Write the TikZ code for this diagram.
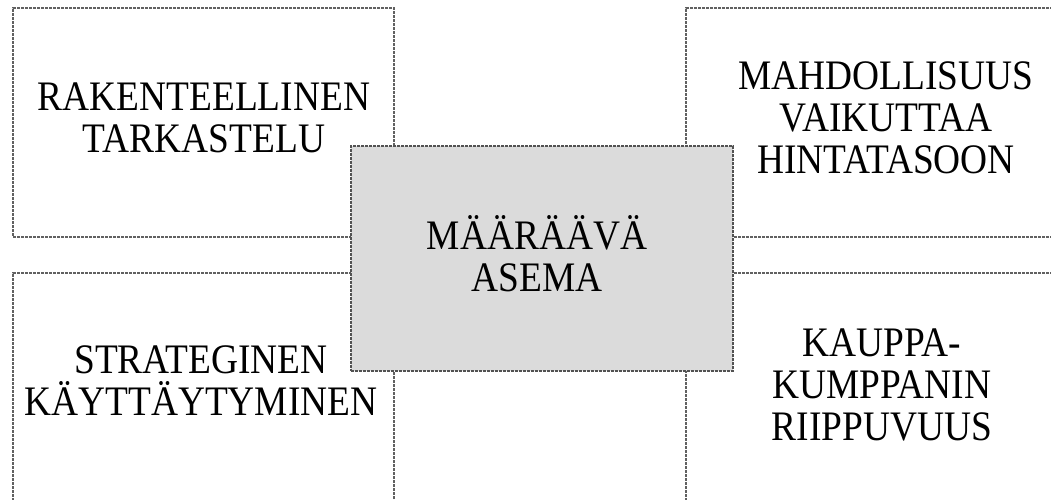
\documentclass[tikz,border=0pt]{standalone}
\usepackage{fontspec}
\setmainfont{Liberation Serif}[FakeStretch=0.89]

\tikzstyle{dotbox}=[
    draw=black!62,
    line width=1.1pt,
    dash pattern=on 1.5pt off 0.5pt,
    fill=white,
    minimum width=190.5pt,
    minimum height=114.5pt,
    inner sep=0pt,
  ]
\tikzstyle{midbox}=[
    dotbox,
    draw=black!68,
    fill=black!14,
    minimum width=191pt,
    minimum height=112.5pt,
  ]
\tikzstyle{boxtext}=[
    align=center,
    inner sep=0pt,
    font=\fontsize{21}{21}\selectfont,
  ]

\begin{document}
\begin{tikzpicture}[x=0.5pt, y=-0.5pt]
      \useasboundingbox (0,0) rectangle (1051,499);
      \clip (0,0) rectangle (1051,499);
      % four corner boxes, then the middle one on top
      \node[dotbox] (tl) at (203.5, 122.5) {};
      \node[dotbox] (bl) at (203.5, 387.5) {};
      \node[dotbox] (tr) at (876.5, 122.5) {};
      \node[dotbox] (br) at (876.5, 387.5) {};
      \node[midbox] (mid) at (542, 258.5) {};
      \node[boxtext] (tltext) at (204, 117.5) {RAKENTEELLINEN\\TARKASTELU};
      \node[boxtext] (trtext) at (886, 117.5) {MAHDOLLISUUS\\VAIKUTTAA\\HINTATASOON};
      \node[boxtext] (bltext) at (201, 380.5) {STRATEGINEN\\KÄYTTÄYTYMINEN};
      \node[boxtext] (brtext) at (882, 385) {KAUPPA-\\KUMPPANIN\\RIIPPUVUUS};
      \node[boxtext] (midtext) at (537, 253.5) {MÄÄRÄÄVÄ\\ASEMA};
    \end{tikzpicture}
\end{document}
